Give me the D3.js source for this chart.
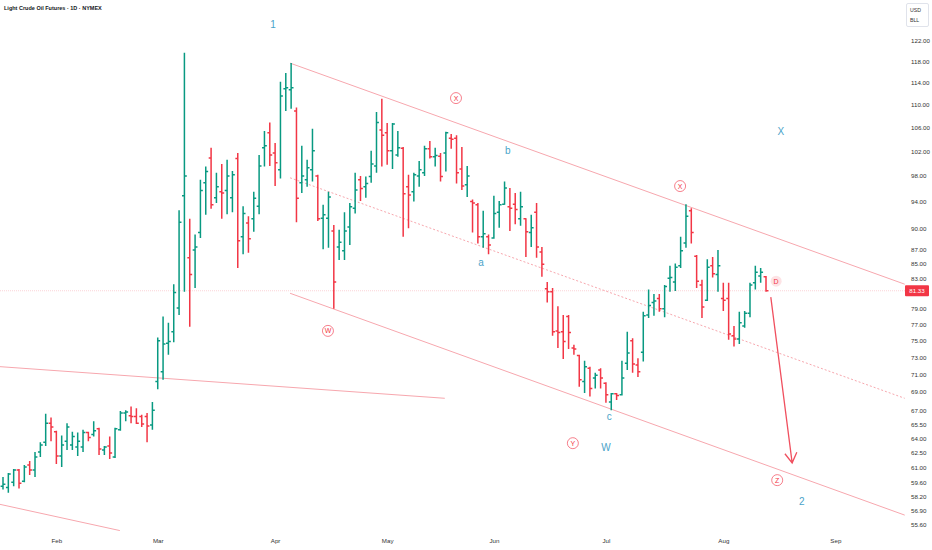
<!DOCTYPE html>
<html>
<head>
<meta charset="utf-8">
<script src="https://cdn.jsdelivr.net/npm/d3@7"></script>
<style>
  body { margin: 0; background: #fff; }
  svg { display: block; font-family: "Liberation Sans", Arial, sans-serif; }
</style>
</head>
<body>
<div id="chart"></div>
<script>
// Light Crude Oil Futures, daily bars, log price scale
const WIDTH = 932;
const HEIGHT = 550;
const PLOT_RIGHT = 905;
const UP = "#089981";
const DOWN = "#F23645";
const LINE_PINK = "#f7a7ae";
const WAVE_BLUE = "#4aa3c9";

// month labels sit on the first bar of each month (bar index)
const MONTHS = ["Feb", "Mar", "Apr", "May", "Jun", "Jul", "Aug", "Sep"];
const MONTH_BAR = [10, 29, 51, 72, 92, 113, 135, 156];

const PRICE_TICKS = [122, 118, 114, 110, 106, 102, 98, 94, 90, 87, 85, 83, 79, 77, 75, 73,
  71, 69, 67, 65.5, 64, 62.5, 61, 59.6, 58.2, 56.9, 55.6];
const LAST_PRICE = 81.33;

// daily bars
const OPENS = [59.2,59.1,59.6,60.8,59.7,61.3,60.8,62.6,63.6,65.6,64.7,62.2,63.7,63.3,63.1,63.1,64.6,64.4,65.0,62.8,
  63.2,62.1,64.9,66.7,66.4,66.3,66.3,66.3,65.4,70.2,71.3,74.7,76.1,79.1,94.9,85.8,86.9,89.4,96.9,100.9,
  94.6,95.5,95.7,94.6,100.8,88.8,90.8,91.4,93.3,102.6,105.1,101.7,99.0,112.9,112.7,108.9,96.9,97.4,99.0,98.0,
  91.5,91.5,89.6,87.3,86.8,90.2,93.0,97.4,96.3,97.9,99.6,105.6,105.1,102.1,101.4,102.5,96.3,95.5,98.0,98.5,
  102.4,101.1,101.2,101.7,104.2,104.2,99.1,96.6,94.0,93.5,88.8,88.8,88.6,92.4,93.6,93.2,93.6,91.4,91.4,89.4,
  92.4,86.6,81.6,81.2,76.2,76.1,78.0,74.1,73.2,70.2,71.7,70.6,71.5,70.0,67.9,68.8,68.7,72.3,75.0,72.1,
  73.6,78.2,79.8,80.3,79.0,83.0,82.5,84.7,87.9,92.6,86.0,82.1,80.1,84.7,83.5,80.3,80.3,75.6,75.2,76.8,
  78.4,82.4,83.3,83.2];
const HIGHS = [60.1,60.5,60.9,60.9,61.3,61.7,62.6,63.6,66.6,66.2,64.8,64.3,65.6,64.7,64.6,64.9,64.7,65.8,65.1,63.2,
  64.2,65.1,66.9,67.0,67.4,67.2,66.5,66.7,67.9,75.4,78.0,77.2,82.2,92.7,119.7,91.4,89.1,97.4,99.5,102.6,
  98.5,99.9,100.6,98.8,101.7,93.3,91.8,95.5,101.4,105.4,106.9,103.4,114.2,115.8,117.7,109.5,102.9,100.6,105.8,98.2,
  93.5,95.5,90.5,89.8,92.4,93.8,98.5,98.0,97.9,102.1,108.7,111.1,106.8,106.8,105.4,102.7,98.2,98.5,100.4,102.9,
  103.7,102.6,101.7,105.3,104.9,104.7,102.7,99.6,94.3,93.8,92.6,89.1,94.9,94.1,97.1,96.1,95.3,95.5,91.5,92.0,
  93.8,87.3,82.5,81.7,79.3,78.2,78.2,74.5,73.3,72.6,71.9,71.2,71.7,70.1,68.9,68.9,72.6,76.1,75.3,72.9,
  78.6,81.5,80.9,80.9,82.1,84.7,85.0,88.8,93.6,93.0,86.2,82.8,85.6,85.9,86.9,82.4,82.4,76.8,78.6,78.7,
  82.4,84.7,84.4,83.3];
const LOWS = [58.9,58.6,59.2,59.0,59.6,60.3,60.1,62.1,63.2,63.7,61.4,61.1,62.8,62.8,62.2,62.6,63.7,64.2,62.3,62.3,
  61.9,62.0,64.8,65.8,65.6,65.5,65.2,63.6,64.9,69.3,70.4,73.3,74.8,78.2,81.2,76.7,81.7,88.6,92.0,92.9,
  93.8,91.4,92.1,92.4,84.4,86.3,86.5,89.5,92.1,99.5,99.6,96.4,97.6,108.9,109.3,90.9,95.3,96.3,97.1,91.1,
  87.0,87.2,79.0,85.5,85.5,87.6,92.2,94.1,94.6,96.9,98.5,99.5,99.8,99.1,101.1,88.8,90.0,94.0,96.3,98.0,
  100.8,99.5,97.1,98.7,102.4,96.8,95.8,94.7,89.4,87.8,87.2,86.3,88.5,90.1,93.5,89.6,90.6,90.4,85.9,87.3,
  85.8,83.2,79.8,75.6,74.1,72.8,74.0,73.3,69.6,68.9,68.5,69.4,69.4,67.8,67.0,68.1,68.6,71.5,71.2,70.7,
  72.5,77.8,78.1,78.6,77.9,81.2,81.3,84.4,87.2,87.8,81.7,77.8,80.0,83.1,81.2,78.7,75.1,74.3,74.6,76.6,
  77.9,81.5,82.4,81.2];
const CLOSES = [59.4,60.4,60.8,59.5,61.1,60.8,62.1,63.3,65.6,65.2,62.2,63.3,65.2,64.2,63.7,64.6,64.1,64.8,62.9,63.1,
  62.5,65.0,66.7,66.8,66.3,65.6,65.5,65.3,67.0,75.0,74.6,74.9,81.1,90.9,98.0,83.5,87.3,95.7,98.7,93.5,
  96.3,95.3,98.0,98.2,88.2,92.2,88.5,94.5,99.6,102.9,101.4,100.1,111.6,113.1,113.1,94.5,98.0,99.3,102.1,91.4,
  92.0,94.7,82.5,88.0,89.6,93.2,95.8,96.0,96.8,99.9,106.9,104.7,102.1,106.6,102.6,95.2,95.0,98.2,99.0,102.4,
  101.1,101.3,97.9,105.1,104.0,98.5,96.4,98.0,93.8,88.8,89.2,87.6,92.2,93.5,96.1,93.0,92.8,93.2,89.5,90.1,
  87.3,84.9,81.2,76.1,76.0,74.9,76.0,74.0,70.4,71.9,69.4,70.9,70.6,68.7,68.8,68.6,70.6,73.5,72.2,71.3,
  78.1,79.4,80.0,79.0,81.9,83.1,84.5,86.8,91.8,89.4,82.6,79.2,84.5,83.6,84.7,80.1,75.8,75.2,77.2,78.4,
  82.1,83.8,83.8,81.33];

// drawings in (bar index, price)
const TREND_LINES = [
  { a: [53.8, 117.7], b: [169, 82.2], dash: null },
  { a: [53.8, 81.0], b: [169, 56.5], dash: null },
  { a: [53.8, 97.7], b: [169, 68.3], dash: "2,2" },
  { a: [-0.6, 71.9], b: [82.8, 68.3], dash: null },
  { a: [-0.6, 57.5], b: [21.9, 55.1], dash: null }
];
const ARROW = { a: [143.9, 80.5], b: [147.9, 61.5] };

const WAVES = [
  { t: "1", bar: 50.6, p: 125.4, circled: false },
  { t: "W", bar: 60.9, p: 76.2, circled: true },
  { t: "X", bar: 84.9, p: 111.2, circled: true },
  { t: "b", bar: 94.6, p: 102.1, circled: false },
  { t: "a", bar: 89.6, p: 85.2, circled: false },
  { t: "c", bar: 113.6, p: 66.3, circled: false },
  { t: "Y", bar: 106.8, p: 63.5, circled: true },
  { t: "W", bar: 113.0, p: 63.1, circled: false },
  { t: "X", bar: 126.9, p: 96.4, circled: true },
  { t: "X", bar: 145.8, p: 105.4, circled: false },
  { t: "D", bar: 144.9, p: 82.6, circled: true },
  { t: "Z", bar: 145.1, p: 59.8, circled: true },
  { t: "2", bar: 149.7, p: 57.8, circled: false }
];

const bars = OPENS.map((o, i) => ({ i: i, o: o, h: HIGHS[i], l: LOWS[i], c: CLOSES[i] }));

const x = d3.scaleLinear().domain([0, 143]).range([3, 766]);
const y = d3.scaleLog().domain([55.6, 122]).range([525, 41]);

const svg = d3.select("#chart").append("svg")
  .attr("width", WIDTH).attr("height", HEIGHT);

svg.append("defs").append("clipPath").attr("id", "plot-clip")
  .append("rect").attr("x", 0).attr("y", 0).attr("width", PLOT_RIGHT).attr("height", 535);

const plot = svg.append("g").attr("clip-path", "url(#plot-clip)");

// last price line
plot.append("line")
  .attr("x1", 0).attr("x2", PLOT_RIGHT)
  .attr("y1", y(LAST_PRICE)).attr("y2", y(LAST_PRICE))
  .attr("stroke", "#fbd3d7").attr("stroke-width", 1).attr("stroke-dasharray", "1,1");

// trend lines
plot.selectAll(".trend").data(TREND_LINES).join("line")
  .attr("class", "trend")
  .attr("x1", d => x(d.a[0])).attr("y1", d => y(d.a[1]))
  .attr("x2", d => x(d.b[0])).attr("y2", d => y(d.b[1]))
  .attr("stroke", LINE_PINK).attr("stroke-width", 1)
  .attr("stroke-dasharray", d => d.dash);

// OHLC bars
const barG = plot.append("g");
barG.selectAll("path").data(bars).join("path")
  .attr("d", d => {
    const cx = x(d.i);
    return `M${cx},${y(d.h)}V${y(d.l)}M${cx - 2.4},${y(d.o)}H${cx}M${cx},${y(d.c)}H${cx + 2.4}`;
  })
  .attr("fill", "none")
  .attr("stroke", d => d.c >= d.o ? UP : DOWN)
  .attr("stroke-width", 1.5);

// arrow
const ax1 = x(ARROW.a[0]), ay1 = y(ARROW.a[1]);
const ax2 = x(ARROW.b[0]), ay2 = y(ARROW.b[1]);
const len = Math.hypot(ax2 - ax1, ay2 - ay1);
const ux = (ax2 - ax1) / len, uy = (ay2 - ay1) / len;
plot.append("path")
  .attr("d", `M${ax1},${ay1}L${ax2},${ay2}` +
    `M${ax2 - 10 * ux - 6 * uy},${ay2 - 10 * uy + 6 * ux}L${ax2},${ay2}` +
    `L${ax2 - 10 * ux + 6 * uy},${ay2 - 10 * uy - 6 * ux}`)
  .attr("fill", "none").attr("stroke", "#f0505f").attr("stroke-width", 1.3);

// wave labels
const waveG = plot.selectAll(".wave").data(WAVES).join("g")
  .attr("class", "wave")
  .attr("transform", d => `translate(${x(d.bar)},${y(d.p)})`);
waveG.filter(d => d.circled).append("circle")
  .attr("r", 5.5).attr("fill", d => d.t === "D" ? "#fde3e5" : "#fff")
  .attr("stroke", d => d.t === "D" ? "none" : "#f4606e").attr("stroke-width", 0.8);
waveG.append("text")
  .attr("text-anchor", "middle").attr("dy", "0.35em")
  .attr("font-size", d => d.circled ? 7 : 10)
  .attr("fill", d => d.circled ? DOWN : WAVE_BLUE)
  .text(d => d.t);

// price axis
const yAxis = svg.append("g").attr("transform", `translate(911,0)`)
  .call(d3.axisRight(y).tickValues(PRICE_TICKS).tickSize(0).tickPadding(0)
    .tickFormat(d3.format(".2f")));
yAxis.select(".domain").remove();
yAxis.selectAll("text").attr("font-size", 6.2).attr("fill", "#333").attr("font-family", null);

// last price tag
svg.append("rect").attr("x", 905).attr("y", y(LAST_PRICE) - 5.5)
  .attr("width", 24).attr("height", 11).attr("fill", DOWN).attr("rx", 1);
svg.append("text").attr("x", 917).attr("y", y(LAST_PRICE)).attr("dy", "0.35em")
  .attr("text-anchor", "middle").attr("font-size", 6.2).attr("fill", "#fff")
  .text(LAST_PRICE.toFixed(2));

// currency / unit box
svg.append("rect").attr("x", 906.5).attr("y", 3.5).attr("width", 22).attr("height", 23)
  .attr("fill", "#fff").attr("stroke", "#e0e3eb").attr("rx", 1.5);
svg.append("text").attr("x", 910).attr("y", 12).attr("font-size", 5.2).attr("fill", "#333").text("USD");
svg.append("text").attr("x", 910).attr("y", 21.5).attr("font-size", 5.2).attr("fill", "#333").text("BLL");

// time axis
const xAxis = svg.append("g").attr("transform", `translate(0,539)`)
  .call(d3.axisBottom(x).tickValues(MONTH_BAR).tickSize(0).tickPadding(0)
    .tickFormat((d, i) => MONTHS[i]));
xAxis.select(".domain").remove();
xAxis.selectAll("text").attr("font-size", 6.2).attr("fill", "#333").attr("font-family", null);

// title
svg.append("text").attr("x", 4).attr("y", 9.5)
  .attr("font-size", 5.5).attr("font-weight", 600).attr("fill", "#131722")
  .text("Light Crude Oil Futures · 1D · NYMEX");
</script>
</body>
</html>
